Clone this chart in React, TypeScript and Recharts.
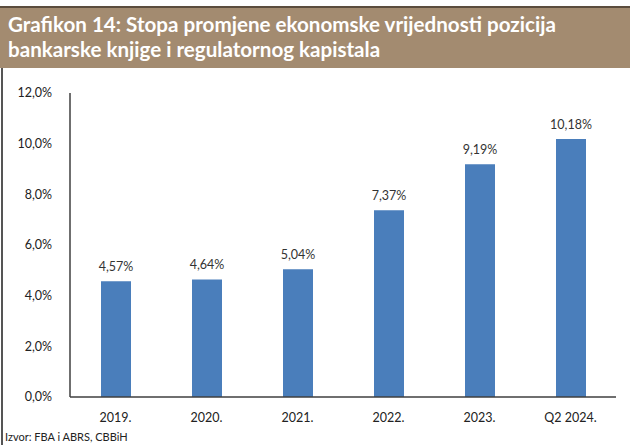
import { BarChart, Bar, XAxis, YAxis, LabelList } from "recharts";

const categories = ["2019.", "2020.", "2021.", "2022.", "2023.", "Q2 2024."];
const rates = [4.57, 4.64, 5.04, 7.37, 9.19, 10.18];
const yTicks = [0, 2, 4, 6, 8, 10, 12];

const data = categories.map((name, i) => ({ name, value: rates[i] }));

const fmt = (v: number, d: number) => v.toFixed(d).replace(".", ",") + "%";

const FONT = "Lato, 'Open Sans', sans-serif";
const BORDER = "#3f3f3f";

export default function App() {
  return (
    <div
      style={{
        position: "absolute",
        left: 0,
        top: 0,
        width: 630,
        height: 445,
        background: "#fff",
        overflow: "hidden",
        fontFamily: FONT,
      }}
    >
      <div
        style={{
          position: "absolute",
          left: 0,
          top: 6,
          width: 630,
          height: 62,
          background: "#a38b70",
          borderTop: "2px solid #5b4c3d",
          boxSizing: "border-box",
          color: "#fff",
          fontWeight: 700,
          fontSize: 20.6,
          lineHeight: "25px",
          padding: "4px 0 0 8px",
        }}
      >
        Grafikon 14: Stopa promjene ekonomske vrijednosti pozicija
        <br />
        bankarske knjige i regulatornog kapistala
      </div>
      <div
        style={{
          position: "absolute",
          left: 1,
          top: 68,
          width: 2,
          height: 377,
          background: "#555",
        }}
      />
      <div style={{ position: "absolute", left: 0, top: 0 }}>
        <BarChart
          width={630}
          height={445}
          data={data}
          margin={{ top: 93, right: 14, bottom: 18, left: 0 }}
        >
          <YAxis
            width={70}
            domain={[0, 12]}
            ticks={yTicks}
            tickFormatter={(v: number) => fmt(v, 1)}
            tickSize={0}
            tickMargin={18}
            tick={{ fill: "#222", fontSize: 12.5, fontFamily: FONT }}
            axisLine={{ stroke: BORDER, strokeWidth: 1.5 }}
            interval={0}
          />
          <YAxis
            yAxisId="right"
            orientation="right"
            width={0}
            domain={[0, 12]}
            tick={false}
            tickLine={false}
            axisLine={{ stroke: BORDER, strokeWidth: 1.5 }}
          />
          <XAxis
            dataKey="name"
            height={30}
            tickLine={false}
            tickSize={0}
            tickMargin={16}
            tick={{ fill: "#222", fontSize: 12.5, fontFamily: FONT }}
            axisLine={{ stroke: BORDER, strokeWidth: 1.5 }}
            interval={0}
          />
          <XAxis
            xAxisId="top"
            orientation="top"
            dataKey="name"
            height={0}
            tick={false}
            tickLine={false}
            axisLine={{ stroke: BORDER, strokeWidth: 1.5 }}
          />
          <Bar dataKey="value" fill="#4a7ebb" barSize={30} isAnimationActive={false}>
            <LabelList
              dataKey="value"
              position="top"
              offset={10}
              formatter={(v: number) => fmt(v, 2)}
              style={{ fill: "#333", fontSize: 12.5, fontFamily: FONT }}
            />
          </Bar>
        </BarChart>
      </div>
      <div
        style={{
          position: "absolute",
          left: 5,
          top: 430,
          fontSize: 11,
          color: "#222",
        }}
      >
        Izvor: FBA i ABRS, CBBiH
      </div>
    </div>
  );
}
